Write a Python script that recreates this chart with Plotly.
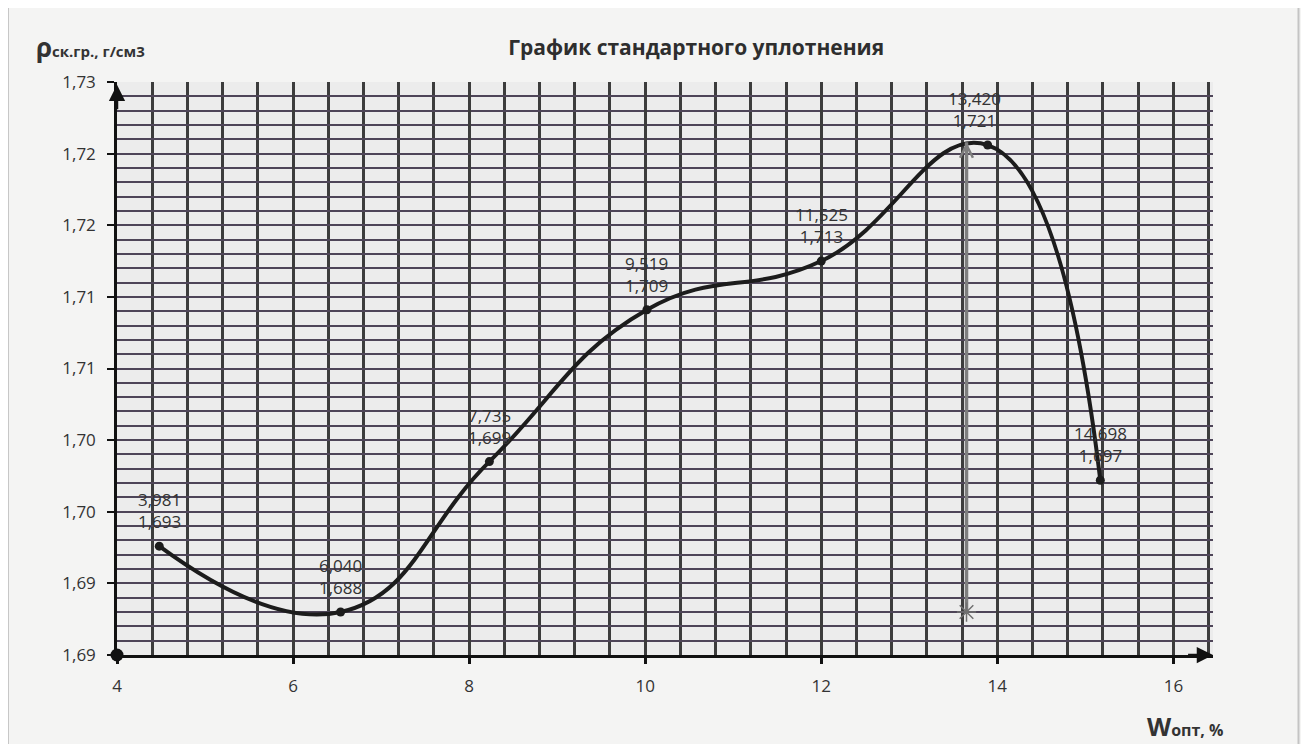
import plotly.graph_objects as go

# ---- data ----
w_pos = [4.48, 6.54, 8.23, 10.02, 12.00, 13.89, 15.17]
rho = [1.6926, 1.6880, 1.6985, 1.7091, 1.7125, 1.7206, 1.6972]
w_labels = ["3,981", "6,040", "7,735", "9,519", "11,525", "13,420", "14,698"]
rho_labels = ["1,693", "1,688", "1,699", "1,709", "1,713", "1,721", "1,697"]

x_tickvals = [4, 6, 8, 10, 12, 14, 16]
x_ticktext = ["4", "6", "8", "10", "12", "14", "16"]
y_tickvals = [1.685, 1.690, 1.695, 1.700, 1.705, 1.710, 1.715, 1.720, 1.725]
y_ticktext = ["1,69", "1,69", "1,70", "1,70", "1,71", "1,71", "1,72", "1,72", "1,73"]

x_range = [4, 16.45]
y_range = [1.685, 1.725]

opt_w = 13.65
opt_rho_top = 1.7208
opt_rho_base = 1.688

# label style offsets (pixels) per point index
label_xshift = {5: -13}

FONT = "Open Sans"
TXT = "#333333"

fig = go.Figure()

# main smoothed curve with points
fig.add_trace(go.Scatter(
    x=w_pos, y=rho, mode="lines+markers",
    line=dict(color="#1c1c1c", width=4, shape="spline", smoothing=1.3),
    marker=dict(color="#1c1c1c", size=9),
    cliponaxis=False, showlegend=False, hoverinfo="skip",
))
for i, (xv, yv, a, b) in enumerate(zip(w_pos, rho, w_labels, rho_labels)):
    fig.add_annotation(x=xv, y=yv, xref="x", yref="y", text=f"{a}<br>{b}",
                       showarrow=False, yanchor="bottom", xanchor="center",
                       yshift=11, xshift=label_xshift.get(i, 0),
                       font=dict(family=FONT, size=17, color=TXT))

# optimum vertical marker
fig.add_trace(go.Scatter(
    x=[opt_w, opt_w], y=[opt_rho_base, opt_rho_top], mode="lines",
    line=dict(color="#7e7e7e", width=3.5), showlegend=False, hoverinfo="skip",
))
fig.add_trace(go.Scatter(
    x=[opt_w], y=[opt_rho_base], mode="markers",
    marker=dict(symbol="asterisk-open", size=16, color="#707070",
                line=dict(color="#707070", width=1.5)),
    showlegend=False, hoverinfo="skip",
))
fig.add_annotation(x=opt_w, y=opt_rho_top, ax=opt_w, ay=opt_rho_top - 0.002,
                   xref="x", yref="y", axref="x", ayref="y", text="",
                   showarrow=True, arrowhead=5, arrowsize=1.4, arrowwidth=1.8,
                   arrowcolor="#7e7e7e")

# origin dot
fig.add_trace(go.Scatter(
    x=[x_range[0]], y=[y_range[0]], mode="markers",
    marker=dict(color="#111111", size=13), cliponaxis=False,
    showlegend=False, hoverinfo="skip",
))

# axis arrows
fig.add_annotation(x=x_range[1], y=y_range[0], ax=x_range[1] - 0.3, ay=y_range[0],
                   xref="x", yref="y", axref="x", ayref="y", text="",
                   showarrow=True, arrowhead=2, arrowsize=1.3, arrowwidth=2.5,
                   arrowcolor="#111111")
fig.add_annotation(x=x_range[0], y=y_range[1] - 0.0002, ax=x_range[0], ay=y_range[1] - 0.002,
                   xref="x", yref="y", axref="x", ayref="y", text="",
                   showarrow=True, arrowhead=2, arrowsize=1.3, arrowwidth=2.5,
                   arrowcolor="#111111")

GRID_H = "#4e4558"
GRID_V = "#3c3c3c"

fig.update_xaxes(
    range=x_range, tickmode="array", tickvals=x_tickvals, ticktext=x_ticktext,
    showgrid=True, gridcolor=GRID_V, gridwidth=2.5,
    minor=dict(tickmode="linear", tick0=4, dtick=0.4, showgrid=True,
               gridcolor=GRID_V, gridwidth=2.5),
    showline=True, linecolor="#111111", linewidth=2.5,
    ticks="outside", ticklen=6, tickwidth=2.5, tickcolor="#111111",
    ticklabelstandoff=8,
    tickfont=dict(family=FONT, size=17, color=TXT),
    zeroline=False, fixedrange=True,
)
fig.update_yaxes(
    range=y_range, tickmode="array", tickvals=y_tickvals, ticktext=y_ticktext,
    showgrid=True, gridcolor=GRID_H, gridwidth=2,
    minor=dict(tickmode="linear", tick0=1.685, dtick=0.001, showgrid=True,
               gridcolor=GRID_H, gridwidth=2),
    showline=True, linecolor="#111111", linewidth=2.5,
    ticks="outside", ticklen=7, tickwidth=2, tickcolor="#111111",
    ticklabelstandoff=8,
    tickfont=dict(family=FONT, size=17, color=TXT),
    zeroline=False, fixedrange=True,
)

# axis titles
fig.add_annotation(
    xref="paper", yref="paper", x=-0.076, y=1.061, xanchor="left", yanchor="middle",
    text="<b><span style='font-size:26px'>ρ</span>ск.гр., г/см3</b>",
    showarrow=False, font=dict(family=FONT, size=15, color="#333333"),
)
fig.add_annotation(
    xref="paper", yref="paper", x=0.938, y=-0.124, xanchor="left", yanchor="middle",
    text="<b><span style='font-size:25px'>W</span>опт, %</b>",
    showarrow=False, font=dict(family=FONT, size=16, color="#333333"),
)

# scan edges
for xp in [-0.0995, 1.078]:
    fig.add_shape(type="line", xref="paper", yref="paper", x0=xp, x1=xp, y0=-0.16, y1=1.15,
                  line=dict(color="#c4c4c4", width=2))

# the page body adds an 8px margin, so the figure is sized to fit inside it
fig.update_layout(
    width=1301, height=736,
    margin=dict(l=109, r=96, t=74, b=89),
    paper_bgcolor="#f4f4f3", plot_bgcolor="#ececec",
    title=dict(text="<b>График стандартного уплотнения</b>", x=0.529, y=0.9466,
               xanchor="center", yanchor="middle",
               font=dict(family=FONT, size=21, color="#2e2e2e")),
    showlegend=False,
)

fig.write_html("out.html")
